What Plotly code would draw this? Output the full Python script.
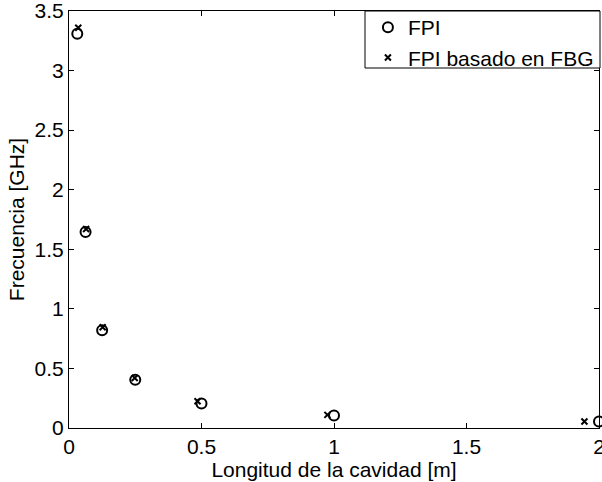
import plotly.graph_objects as go

# Cavity length [m] and free spectral range [GHz]
longitud_fpi = [0.03125, 0.0625, 0.125, 0.25, 0.5, 1.0, 2.0]
frecuencia_fpi = [3.31, 1.645, 0.82, 0.405, 0.205, 0.105, 0.055]

longitud_fbg = [0.035, 0.0645, 0.127, 0.248, 0.485, 0.975, 1.945]
frecuencia_fbg = [3.36, 1.67, 0.845, 0.42, 0.225, 0.11, 0.055]

x_ticks = [0, 0.5, 1, 1.5, 2]
x_tick_labels = ["0", "0.5", "1", "1.5", "2"]
y_ticks = [0, 0.5, 1, 1.5, 2, 2.5, 3, 3.5]
y_tick_labels = ["0", "0.5", "1", "1.5", "2", "2.5", "3", "3.5"]

FONT = "Liberation Sans, Arial, sans-serif"
FS = 21

fig = go.Figure()
fig.add_trace(go.Scatter(
    x=longitud_fpi, y=frecuencia_fpi, mode="markers", name="FPI",
    marker=dict(symbol="circle-open", size=10, color="black", line=dict(width=2, color="black")),
    cliponaxis=False,
))
fig.add_trace(go.Scatter(
    x=longitud_fbg, y=frecuencia_fbg, mode="markers", name="FPI basado en FBG",
    marker=dict(symbol="x-thin", size=6, color="black", line=dict(width=2, color="black")),
    cliponaxis=False,
))

axis_common = dict(
    showgrid=False, zeroline=False, showline=True, linecolor="black", linewidth=1,
    mirror="ticks", ticks="inside", ticklen=5, tickcolor="black", tickwidth=1,
    tickfont=dict(family=FONT, size=FS, color="black"),
    ticklabeloverflow="allow", automargin=False,
)

fig.update_xaxes(
    range=[0, 2], tickvals=x_ticks, ticktext=x_tick_labels,
    title=dict(text="Longitud de la cavidad [m]", font=dict(family=FONT, size=FS, color="black"), standoff=0),
    **axis_common,
)
fig.update_yaxes(
    range=[0, 3.5], tickvals=y_ticks, ticktext=y_tick_labels,
    title=dict(text="Frecuencia [GHz]", font=dict(family=FONT, size=FS, color="black"), standoff=4),
    **axis_common,
)

# Legend frame (white box with black border in the upper-right corner of the axes)
fig.add_shape(
    type="rect", xref="paper", yref="paper",
    x0=0.5585, x1=1.0019, y0=0.8633, y1=1.0,
    line=dict(color="black", width=1), fillcolor="white", layer="above",
)

fig.update_layout(
    width=602, height=482,
    margin=dict(l=69, r=3, t=11, b=54, autoexpand=False),
    paper_bgcolor="white", plot_bgcolor="white",
    font=dict(family=FONT, size=FS, color="black"),
    legend=dict(
        x=0.564, y=1.0096, xanchor="left", yanchor="top",
        bgcolor="rgba(0,0,0,0)", borderwidth=0,
        font=dict(family=FONT, size=FS, color="black"),
    ),
)

fig.write_html("out.html")
